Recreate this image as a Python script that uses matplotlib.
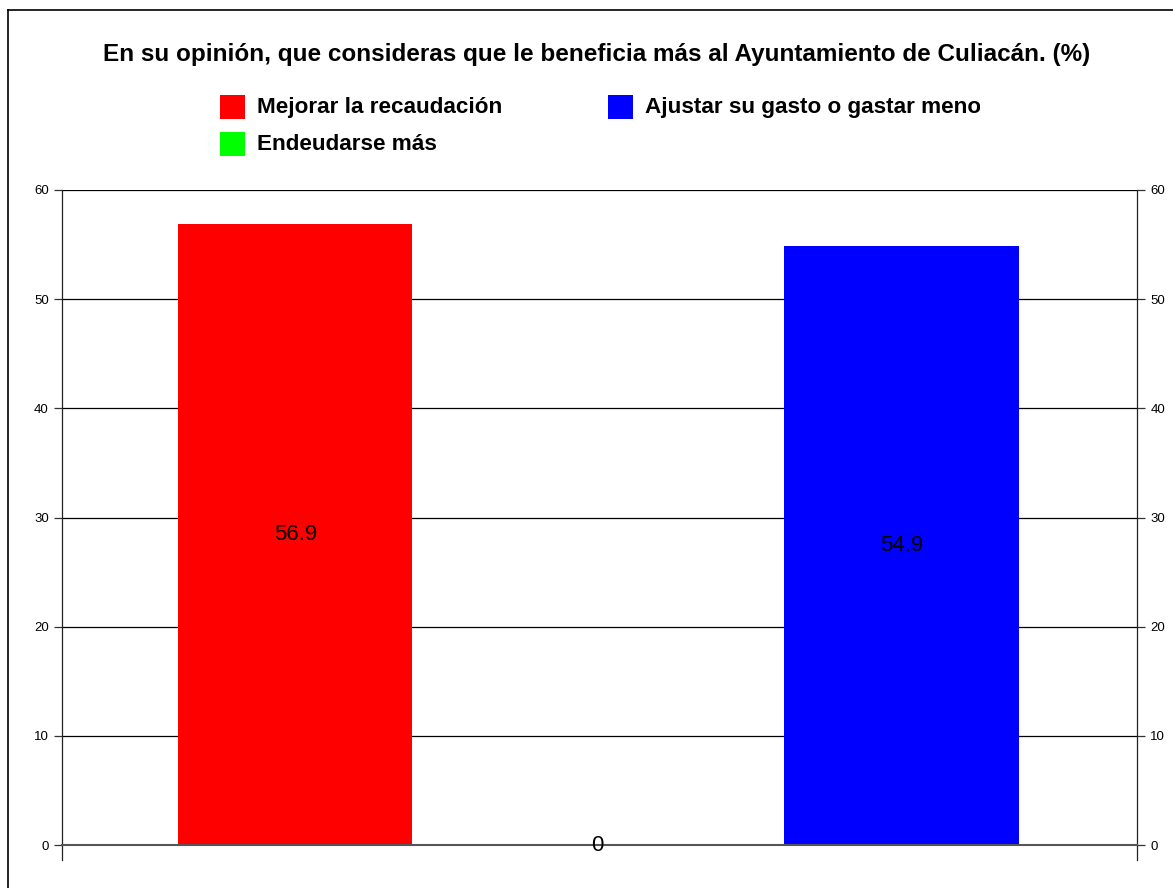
import matplotlib.pyplot as plt
from matplotlib.patches import Rectangle
from matplotlib.lines import Line2D

plt.rcParams['font.family'] = ['Liberation Sans', 'DejaVu Sans']

title = "En su opinión, que consideras que le beneficia más al Ayuntamiento de Culiacán. (%)"
series = ["Mejorar la recaudación", "Endeudarse más", "Ajustar su gasto o gastar menos"]
values = [56.9, 0, 54.9]
colors = ["#ff0000", "#00ff00", "#0000ff"]
offsets = [-0.283, -0.002, 0.281]

fig = plt.figure(figsize=(11.73, 8.88), dpi=100)
ax = fig.add_axes([62 / 1173, 1 - 845 / 888, 1075 / 1173, 655 / 888])

bars = ax.bar(offsets, values, width=0.218, color=colors)
for b, v in zip(bars, values):
    ax.text(b.get_x() + b.get_width() / 2, v / 2, f"{v:g}", ha="center", va="center",
            fontsize=16)

ax.set_xlim(-0.5, 0.5)
ax.set_ylim(0, 60)
ax.set_yticks(range(0, 61, 10))
ax.set_xticks([])
ax.yaxis.grid(True, color="black", linewidth=0.9)
ax.set_axisbelow(True)
ax.tick_params(axis="y", which="both", left=True, right=True, labelleft=True,
               labelright=True, labelsize=9.5, length=6, width=0.9, color="#333333")
ax.spines["top"].set_visible(False)
ax.spines["bottom"].set_color("#555555")
ax.spines["bottom"].set_linewidth(1.5)
for s in ["left", "right"]:
    ax.spines[s].set_color("#222222")
    ax.spines[s].set_linewidth(0.9)
# axis lines reaching a little below zero
for xa in (0, 1):
    ax.add_line(Line2D([xa, xa], [0, -0.023], transform=ax.transAxes, color="#222222",
                       linewidth=0.9, clip_on=False))

fig.text(597 / 1173, 1 - 54 / 888, title, ha="center", va="center", fontsize=17.5,
         fontweight="bold")

# legend drawn by hand (the long label is clipped as in the original)
leg_pos = [(220, 107), (220, 144), (608, 107)]
clip = Rectangle((0, 0), 980 / 1173, 1, transform=fig.transFigure, visible=False)
fig.add_artist(clip)
for name, c, (lx, ly) in zip(series, colors, leg_pos):
    fig.add_artist(Rectangle((lx / 1173, 1 - (ly + 12) / 888), 25 / 1173, 24 / 888,
                             transform=fig.transFigure, facecolor=c, edgecolor="none"))
    t = fig.text((lx + 37) / 1173, 1 - ly / 888, name, ha="left", va="center",
                 fontsize=16.2, fontweight="bold")
    t.set_clip_path(clip)

# outer frame
fig.add_artist(Line2D([8 / 1173, 8 / 1173], [0, 1 - 10 / 888], transform=fig.transFigure,
                      color="black", linewidth=1.2))
fig.add_artist(Line2D([8 / 1173, 1], [1 - 10 / 888, 1 - 10 / 888], transform=fig.transFigure,
                      color="black", linewidth=1.2))

fig.savefig("out.png", dpi=100)
